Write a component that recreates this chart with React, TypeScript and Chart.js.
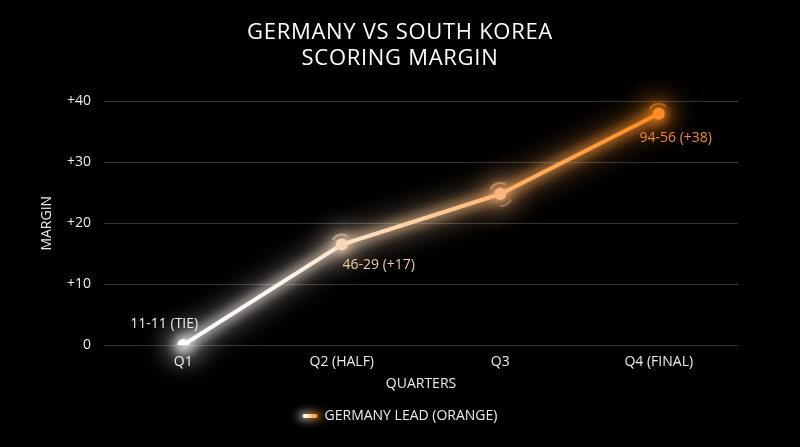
import React, { useEffect, useRef } from 'react';
import { Chart, registerables } from 'chart.js';

Chart.register(...registerables);

const categories = ['Q1', 'Q2 (HALF)', 'Q3', 'Q4 (FINAL)'];
const margins = [0, 16.5, 24.8, 38];
const scoreLabels = ['11-11 (TIE)', '46-29 (+17)', '', '94-56 (+38)'];
const scoreLabelColors = ['#ececec', '#f4c9a2', '#f6b27a', '#f08a32'];
const pointColors = ['#ffffff', '#f9d6b6', '#fab57c', '#ff8c24'];
const yTickValues = [0, 10, 20, 30, 40];
const yTickLabels = ['0', '+10', '+20', '+30', '+40'];
const titleLines = ['GERMANY VS SOUTH KOREA', 'SCORING MARGIN'];
const xAxisTitle = 'QUARTERS';
const yAxisTitle = 'MARGIN';
const legendLabel = 'GERMANY LEAD (ORANGE)';

const FONT = "'Open Sans', 'Noto Sans', sans-serif";
const TEXT = '#ececec';

function makeGradient(ctx: CanvasRenderingContext2D, x0: number, x1: number) {
  const g = ctx.createLinearGradient(x0, 0, x1, 0);
  g.addColorStop(0, '#ffffff');
  g.addColorStop(0.2, '#fff5ec');
  g.addColorStop(0.45, '#ffd4ac');
  g.addColorStop(0.72, '#ffae62');
  g.addColorStop(1, '#ff8a1c');
  return g;
}

function lineGradient(chart: any) {
  const xs = chart.scales.x;
  const x0 = xs.getPixelForValue(0);
  const x1 = xs.getPixelForValue(categories.length - 1);
  return makeGradient(chart.ctx, x0, x1);
}

const bgPlugin = {
  id: 'bg',
  beforeDraw(chart: any) {
    const ctx = chart.ctx;
    ctx.save();
    ctx.fillStyle = '#000000';
    ctx.fillRect(0, 0, chart.width, chart.height);
    ctx.fillStyle = '#ffffff';
    ctx.font = `22px ${FONT}`;
    (ctx as any).letterSpacing = '0.7px';
    ctx.textAlign = 'center';
    ctx.textBaseline = 'middle';
    titleLines.forEach((t, i) => ctx.fillText(t, chart.width / 2, 33 + i * 26));
    ctx.restore();
  },
};

const glowPlugin = {
  id: 'glow',
  beforeDatasetsDraw(chart: any) {
    const ctx = chart.ctx as CanvasRenderingContext2D;
    const meta = chart.getDatasetMeta(0);
    const pts = meta.data.map((p: any) => ({ x: p.x, y: p.y }));
    if (!pts.length) return;
    const grad = lineGradient(chart);
    const pass = (blur: number, width: number, alpha: number) => {
      ctx.save();
      ctx.filter = `blur(${blur}px)`;
      ctx.globalAlpha = alpha;
      ctx.strokeStyle = grad;
      ctx.lineWidth = width;
      ctx.lineCap = 'round';
      ctx.lineJoin = 'round';
      ctx.beginPath();
      pts.forEach((p: any, i: number) => (i ? ctx.lineTo(p.x, p.y) : ctx.moveTo(p.x, p.y)));
      ctx.stroke();
      pts.forEach((p: any, i: number) => {
        ctx.fillStyle = pointColors[i];
        ctx.beginPath();
        ctx.arc(p.x, p.y, width * 0.9, 0, Math.PI * 2);
        ctx.fill();
      });
      ctx.restore();
    };
    pass(14, 16, 0.5);
    pass(6, 9, 0.75);
  },
  afterDatasetsDraw(chart: any) {
    const ctx = chart.ctx as CanvasRenderingContext2D;
    const meta = chart.getDatasetMeta(0);
    const pts = meta.data.map((p: any) => ({ x: p.x, y: p.y }));
    const arcs: Array<[number, number, number, number, string]> = [
      [1, 10, -0.85, -0.3, 'rgba(220,220,220,0.5)'],
      [2, 11, -0.85, -0.35, 'rgba(250,180,120,0.55)'],
      [2, 12, 0.15, 0.5, 'rgba(250,180,120,0.4)'],
      [3, 10, -0.85, -0.25, 'rgba(255,140,40,0.5)'],
    ];
    ctx.save();
    ctx.lineWidth = 2;
    ctx.filter = 'blur(0.6px)';
    arcs.forEach(([i, r, a0, a1, c]) => {
      const p = pts[i];
      ctx.strokeStyle = c;
      ctx.beginPath();
      ctx.arc(p.x, p.y, r, a0 * Math.PI, a1 * Math.PI);
      ctx.stroke();
    });
    ctx.restore();

    const offsets = [
      [-19, -21],
      [37, 20],
      [0, 0],
      [17, 24],
    ];
    ctx.save();
    ctx.font = `14px ${FONT}`;
    ctx.textAlign = 'center';
    ctx.textBaseline = 'middle';
    pts.forEach((p: any, i: number) => {
      if (!scoreLabels[i]) return;
      ctx.fillStyle = scoreLabelColors[i];
      ctx.fillText(scoreLabels[i], p.x + offsets[i][0], p.y + offsets[i][1]);
    });
    ctx.restore();
  },
  afterDraw(chart: any) {
    const ctx = chart.ctx as CanvasRenderingContext2D;
    ctx.save();
    ctx.font = `14px ${FONT}`;
    const tw = ctx.measureText(legendLabel).width;
    const sw = 15;
    const gap = 7;
    const total = sw + gap + tw;
    const x0 = chart.width / 2 - total / 2;
    const y = 416;
    const g = makeGradient(ctx, x0, x0 + sw);
    ctx.lineCap = 'round';
    ctx.strokeStyle = g;
    ctx.save();
    ctx.filter = 'blur(4px)';
    ctx.lineWidth = 8;
    ctx.globalAlpha = 0.7;
    ctx.beginPath();
    ctx.moveTo(x0, y);
    ctx.lineTo(x0 + sw, y);
    ctx.stroke();
    ctx.restore();
    ctx.lineWidth = 4;
    ctx.beginPath();
    ctx.moveTo(x0 + 2, y);
    ctx.lineTo(x0 + sw - 2, y);
    ctx.stroke();
    ctx.fillStyle = TEXT;
    ctx.textAlign = 'left';
    ctx.textBaseline = 'middle';
    ctx.fillText(legendLabel, x0 + sw + gap, y);
    ctx.restore();
  },
};

export default function App() {
  const ref = useRef<HTMLCanvasElement | null>(null);

  useEffect(() => {
    if (!ref.current) return;
    const chart = new Chart(ref.current, {
      type: 'line',
      data: {
        labels: categories,
        datasets: [
          {
            label: legendLabel,
            data: margins,
            borderColor: (c: any) => (c.chart.chartArea ? lineGradient(c.chart) : '#ff8a1c'),
            borderWidth: 4,
            tension: 0,
            fill: false,
            pointRadius: 6,
            pointHoverRadius: 6,
            pointBorderWidth: 0,
            pointBackgroundColor: pointColors,
          },
        ],
      },
      options: {
        animation: false,
        responsive: true,
        maintainAspectRatio: false,
        layout: { padding: { left: 0, right: 62, top: 101.5, bottom: 55 } },
        plugins: {
          legend: { display: false },
          tooltip: { enabled: false },
          title: { display: false },
        },
        scales: {
          x: {
            offset: true,
            grid: { display: false, drawTicks: false },
            border: { display: false },
            ticks: { color: TEXT, font: { family: FONT, size: 14 }, padding: 9 },
            title: {
              display: true,
              text: xAxisTitle,
              color: TEXT,
              font: { family: FONT, size: 14 },
              padding: { top: 0, bottom: 0 },
            },
            afterFit: (s: any) => {
              s.height = 47;
            },
          },
          y: {
            min: 0,
            max: 40,
            afterBuildTicks: (s: any) => {
              s.ticks = yTickValues.map((v) => ({ value: v }));
            },
            grid: { color: 'rgba(255,255,255,0.2)', lineWidth: 1, drawTicks: false },
            border: { display: false },
            ticks: {
              color: TEXT,
              font: { family: FONT, size: 14 },
              padding: 13,
              callback: (v: any) => {
                const i = yTickValues.indexOf(Number(v));
                return i >= 0 ? yTickLabels[i] : '';
              },
            },
            title: {
              display: true,
              text: yAxisTitle,
              color: TEXT,
              font: { family: FONT, size: 14 },
              padding: { top: 39, bottom: 0 },
            },
            afterFit: (s: any) => {
              s.width = 104;
            },
          },
        },
      },
      plugins: [bgPlugin, glowPlugin],
    });
    return () => chart.destroy();
  }, []);

  return (
    <div style={{ position: 'absolute', left: 0, top: 0, width: 800, height: 447, background: '#000' }}>
      <canvas ref={ref} />
    </div>
  );
}
